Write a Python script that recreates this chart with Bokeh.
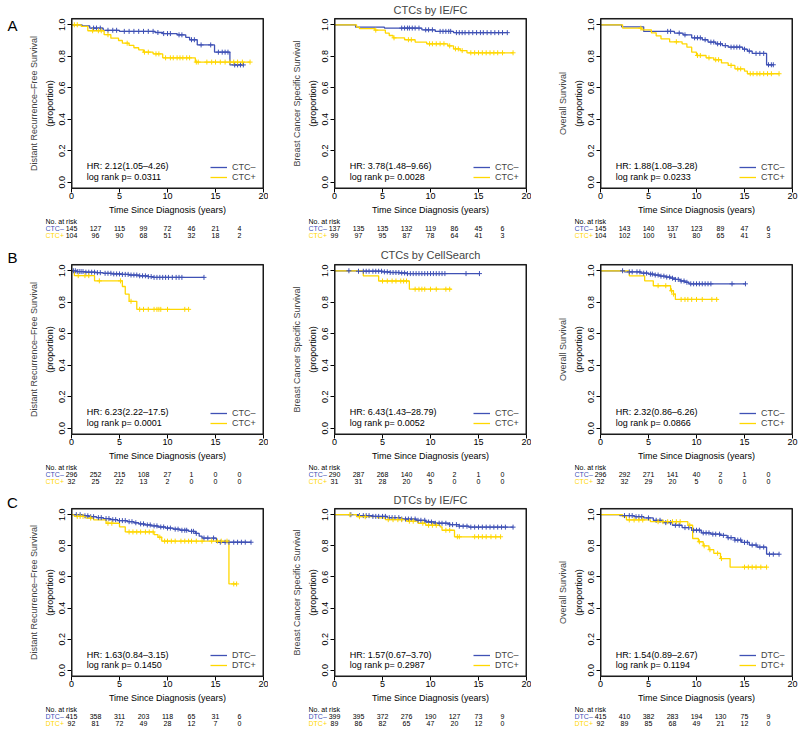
from bokeh.plotting import figure
from bokeh.layouts import row, column
from bokeh.models import (LinearAxis, FixedTicker, PrintfTickFormatter, Legend, LegendItem,
                          Range1d, Title, BoxAnnotation)
from bokeh.core.properties import value
from bokeh.embed import file_html
from bokeh.resources import INLINE

FONT = "Liberation Sans"
BLUE = "#3F51B5"
YELLOW = "#FFD700"

# ---------------- data ----------------
x_limits = [0, 20]
y_limits = [-0.04, 1.04]
x_ticks = [0, 5, 10, 15, 20]
y_ticks = [0.0, 0.2, 0.4, 0.6, 0.8, 1.0]
risk_times = [0, 2.5, 5, 7.5, 10, 12.5, 15, 17.5]

row_titles = ["CTCs by IE/FC", "CTCs by CellSearch", "DTCs by IE/FC"]
row_letters = ["A", "B", "C"]
col_ylabels = ["Distant Recurrence\u2013Free Survival", "Breast Cancer Specific Survival", "Overall Survival"]
row_groups = [["CTC\u2013", "CTC+"], ["CTC\u2013", "CTC+"], ["DTC\u2013", "DTC+"]]

# (time, survival after drop) ; last follow-up time ; censor times
a1_neg_steps = [(1.1, 0.993), (1.9, 0.979), (3.3, 0.965), (5.0, 0.958), (8.7, 0.951), (9.5, 0.944),
                (11.0, 0.936), (11.9, 0.920), (12.3, 0.905), (13.1, 0.872), (14.9, 0.826), (16.5, 0.745)]
a1_neg_end = 17.9
a1_neg_cens = [2.3, 2.6, 3.0, 3.8, 4.3, 4.7, 5.5, 6.0, 6.5, 7.0, 7.5, 8.0, 8.5, 9.0, 9.6, 10.0, 10.3,
               11.2, 11.5, 12.5, 12.8, 13.5, 14.5, 15.3, 15.7, 16.0, 16.3, 17.0, 17.3, 17.6, 17.9]
a1_pos_steps = [(1.0, 0.990), (1.7, 0.962), (3.4, 0.937), (4.1, 0.915), (4.9, 0.900), (5.3, 0.883),
                (6.0, 0.869), (6.5, 0.854), (7.0, 0.841), (7.5, 0.826), (8.5, 0.815), (9.5, 0.790), (12.9, 0.763)]
a1_pos_end = 18.6
a1_pos_cens = [0.3, 0.6, 2.2, 2.8, 3.1, 3.8, 5.8, 7.6, 8.0, 8.8, 9.1, 9.8, 10.3, 10.6, 11.0, 11.3, 11.6,
               12.0, 12.3, 13.0, 13.2, 14.1, 14.6, 15.0, 15.5, 16.0, 16.5, 16.9, 17.3, 17.8, 18.6]

a2_neg_steps = [(2.2, 0.985), (5.2, 0.979), (9.1, 0.968), (10.5, 0.958), (12.4, 0.950)]
a2_neg_end = 18.0
a2_neg_cens = [7.0, 7.3, 7.6, 7.8, 8.1, 8.4, 8.8, 9.5, 9.8, 10.2, 11.0, 11.3, 11.6, 11.9, 12.1, 12.7, 13.0,
               13.3, 13.6, 14.0, 14.4, 14.8, 15.2, 15.5, 15.9, 16.3, 16.7, 17.1, 17.5, 18.0]
a2_pos_steps = [(2.3, 0.985), (2.6, 0.975), (4.2, 0.966), (5.3, 0.947), (5.7, 0.932), (6.1, 0.917),
                (7.3, 0.905), (8.4, 0.890), (9.6, 0.879), (11.8, 0.866), (12.4, 0.847), (13.1, 0.836), (13.8, 0.822)]
a2_pos_end = 18.6
a2_pos_cens = [4.3, 6.2, 7.7, 8.0, 9.9, 10.2, 10.6, 11.0, 11.4, 12.0, 12.6, 12.9, 13.3, 14.2, 14.6, 15.0,
               15.4, 15.8, 16.2, 16.6, 17.0, 17.5, 18.6]

a3_neg_steps = [(2.2, 0.987), (4.5, 0.958), (7.7, 0.947), (8.6, 0.936), (9.5, 0.917), (10.6, 0.905),
                (11.2, 0.890), (12.0, 0.879), (12.7, 0.868), (13.3, 0.858), (14.8, 0.845), (15.3, 0.833),
                (15.8, 0.818), (17.3, 0.746)]
a3_neg_end = 18.0
a3_neg_cens = [7.0, 7.3, 8.2, 8.8, 9.8, 10.1, 10.4, 10.9, 11.5, 11.8, 12.2, 12.5, 13.0, 13.6, 13.9, 14.2,
               14.5, 15.0, 15.5, 16.2, 16.6, 17.0, 17.5, 17.8, 18.0]
a3_pos_steps = [(2.3, 0.979), (4.3, 0.968), (5.3, 0.949), (5.8, 0.930), (6.3, 0.911), (7.2, 0.892),
                (8.5, 0.879), (9.0, 0.858), (9.5, 0.826), (10.0, 0.805), (11.0, 0.790), (11.8, 0.778),
                (12.6, 0.758), (13.3, 0.742), (14.0, 0.720), (15.0, 0.706), (15.3, 0.689)]
a3_pos_end = 18.6
a3_pos_cens = [4.2, 7.9, 10.1, 10.4, 11.3, 12.0, 12.3, 13.6, 14.3, 14.6, 15.6, 15.9, 16.3, 16.6, 17.0, 17.4, 17.8, 18.6]

b1_neg_steps = [(0.5, 0.995), (1.5, 0.991), (2.5, 0.988), (3.3, 0.984), (4.2, 0.980), (5.2, 0.977),
                (6.0, 0.973), (7.0, 0.968), (8.0, 0.963), (8.5, 0.958)]
b1_neg_end = 13.8
b1_neg_cens = [0.2, 0.4, 0.6, 0.8, 1.0, 1.2, 1.5, 1.8, 2.1, 2.4, 2.7, 3.0, 3.5, 3.8, 4.1, 4.4, 4.7, 5.0,
               5.3, 5.6, 5.9, 6.2, 6.5, 6.8, 7.1, 7.4, 7.7, 8.0, 8.3, 8.6, 8.9, 9.2, 9.5, 9.8, 10.1,
               10.5, 10.9, 11.2, 11.5, 13.8]
b1_pos_steps = [(0.3, 0.969), (2.4, 0.936), (5.3, 0.900), (5.6, 0.852), (6.0, 0.806), (6.8, 0.755)]
b1_pos_end = 12.2
b1_pos_cens = [0.7, 1.4, 1.8, 2.9, 5.1, 6.2, 7.1, 7.5, 8.0, 8.6, 8.9, 9.1, 9.3, 10.0, 11.8, 12.2]

b2_neg_steps = [(2.5, 0.997), (5.0, 0.993), (5.8, 0.989), (6.8, 0.986), (7.5, 0.982)]
b2_neg_end = 15.1
b2_neg_cens = [1.5, 2.5, 3.0, 3.3, 3.6, 4.0, 4.3, 4.6, 4.9, 5.2, 5.5, 5.8, 6.1, 6.4, 6.7, 7.0, 7.3, 7.6,
               7.9, 8.2, 8.5, 8.8, 9.1, 9.4, 9.7, 10.0, 10.3, 10.6, 10.9, 11.2, 11.5, 13.7, 15.1]
b2_pos_steps = [(3.0, 0.968), (4.6, 0.935), (7.8, 0.883)]
b2_pos_end = 12.2
b2_pos_cens = [5.0, 5.5, 6.0, 6.4, 6.9, 7.2, 7.5, 8.4, 8.8, 9.1, 9.4, 10.0, 10.6, 11.6, 12.0]

b3_neg_steps = [(2.5, 0.993), (4.2, 0.985), (5.0, 0.979), (5.6, 0.973), (6.2, 0.966), (6.8, 0.960),
                (7.3, 0.953), (7.8, 0.945), (8.3, 0.935), (8.8, 0.927), (9.2, 0.917)]
b3_neg_end = 15.1
b3_neg_cens = [2.3, 3.0, 3.3, 3.8, 4.1, 4.5, 4.8, 5.2, 5.4, 5.7, 6.0, 6.3, 6.6, 6.9, 7.2, 7.5, 7.8, 8.1,
               8.4, 8.7, 9.0, 9.4, 9.7, 10.0, 10.3, 10.6, 10.9, 11.2, 11.5, 13.7, 15.1]
b3_pos_steps = [(3.0, 0.968), (4.6, 0.936), (5.5, 0.905), (7.3, 0.873), (7.6, 0.852), (7.8, 0.818)]
b3_pos_end = 12.2
b3_pos_cens = [6.0, 6.8, 7.4, 7.6, 8.4, 8.8, 9.1, 9.5, 10.0, 10.6, 11.6, 12.1]

c1_neg_steps = [(1.2, 0.993), (1.8, 0.987), (2.6, 0.981), (3.3, 0.975), (4.0, 0.968), (4.8, 0.962),
                (5.8, 0.955), (6.5, 0.948), (7.0, 0.941), (7.6, 0.934), (8.3, 0.928), (9.0, 0.921),
                (9.8, 0.914), (10.6, 0.907), (11.3, 0.900), (12.2, 0.893), (12.9, 0.880), (13.3, 0.862),
                (13.6, 0.850), (15.1, 0.823)]
c1_neg_end = 18.7
c1_neg_cens = [0.5, 0.9, 1.4, 1.7, 2.0, 2.3, 2.8, 3.1, 3.6, 3.9, 4.3, 4.6, 5.0, 5.3, 5.6, 6.0, 6.3, 6.7,
               7.2, 7.5, 7.9, 8.2, 8.6, 8.9, 9.3, 9.6, 10.0, 10.3, 10.8, 11.1, 11.5, 11.8, 12.0, 12.5,
               12.7, 13.0, 13.8, 14.2, 14.8, 15.5, 16.0, 16.4, 16.9, 17.3, 17.7, 18.1, 18.7]
c1_pos_steps = [(0.3, 0.989), (1.5, 0.978), (2.3, 0.967), (3.6, 0.945), (5.0, 0.922), (5.6, 0.889),
                (8.6, 0.872), (9.0, 0.855), (9.4, 0.830), (16.4, 0.555)]
c1_pos_end = 17.2
c1_pos_cens = [0.6, 0.9, 1.2, 2.0, 3.8, 4.2, 6.0, 6.4, 6.8, 7.2, 7.7, 8.1, 8.5, 9.2, 9.7, 10.0, 10.4,
               10.8, 11.4, 11.8, 12.2, 12.5, 13.0, 13.6, 14.6, 15.2, 15.6, 16.2, 16.9, 17.2]

c2_neg_steps = [(2.5, 0.994), (4.0, 0.989), (5.5, 0.981), (7.0, 0.972), (8.5, 0.964), (9.5, 0.953),
                (10.5, 0.945), (12.0, 0.936), (13.0, 0.926), (14.0, 0.920)]
c2_neg_end = 18.6
c2_neg_cens = [1.7, 2.6, 3.0, 3.3, 3.6, 4.0, 4.3, 4.6, 5.0, 5.3, 5.7, 6.0, 6.3, 6.7, 7.0, 7.4, 7.7, 8.0,
               8.4, 8.7, 9.0, 9.4, 9.8, 10.1, 10.5, 10.9, 11.2, 11.6, 12.0, 12.3, 12.7, 13.0, 13.4, 13.8,
               14.2, 14.6, 15.0, 15.4, 15.8, 16.2, 16.6, 17.0, 17.4, 17.8, 18.6]
c2_pos_steps = [(2.3, 0.987), (4.5, 0.979), (5.3, 0.968), (7.5, 0.958), (8.7, 0.945), (9.5, 0.932),
                (11.0, 0.922), (11.2, 0.900), (12.5, 0.858)]
c2_pos_end = 17.3
c2_pos_cens = [1.6, 2.6, 3.2, 5.6, 6.1, 6.6, 7.0, 7.8, 8.2, 9.2, 9.8, 10.2, 10.6, 11.6, 12.0, 12.8, 13.0,
               14.6, 15.0, 15.4, 15.8, 16.3, 16.8, 17.3]

c3_neg_steps = [(2.0, 0.994), (3.5, 0.987), (4.5, 0.979), (5.5, 0.964), (6.5, 0.949), (7.5, 0.932),
                (8.5, 0.917), (9.5, 0.900), (10.5, 0.883), (11.5, 0.875), (12.5, 0.867), (13.2, 0.852),
                (14.0, 0.837), (14.7, 0.822), (15.5, 0.805), (16.3, 0.792), (17.3, 0.746)]
c3_neg_end = 18.6
c3_neg_cens = [2.5, 3.0, 3.3, 3.7, 4.0, 4.3, 5.0, 5.8, 6.2, 6.8, 7.3, 7.8, 8.2, 8.8, 9.2, 9.7, 10.0, 10.3,
               10.7, 11.0, 11.3, 11.7, 12.0, 12.4, 12.8, 13.3, 13.6, 14.0, 14.3, 14.6, 15.0, 15.3, 15.8,
               16.2, 16.6, 17.0, 17.6, 18.0, 18.6]
c3_pos_steps = [(2.3, 0.987), (2.7, 0.966), (5.2, 0.955), (9.1, 0.932), (9.6, 0.847), (10.2, 0.826),
                (10.7, 0.800), (11.3, 0.775), (11.8, 0.752), (12.5, 0.718), (13.5, 0.663)]
c3_pos_end = 17.3
c3_pos_cens = [3.0, 3.5, 4.0, 4.4, 6.0, 6.5, 7.0, 7.5, 7.9, 8.3, 9.3, 10.3, 10.8, 11.4, 12.2, 12.6, 15.0,
               15.4, 15.8, 16.2, 16.7, 17.3]

# number at risk
a1_neg_risk = [145, 127, 115, 99, 72, 46, 21, 4]
a1_pos_risk = [104, 96, 90, 68, 51, 32, 18, 2]
a2_neg_risk = [137, 135, 135, 132, 119, 86, 45, 6]
a2_pos_risk = [99, 97, 95, 87, 78, 64, 41, 3]
a3_neg_risk = [145, 143, 140, 137, 123, 89, 47, 6]
a3_pos_risk = [104, 102, 100, 91, 80, 65, 41, 3]
b1_neg_risk = [296, 252, 215, 108, 27, 1, 0, 0]
b1_pos_risk = [32, 25, 22, 13, 2, 0, 0, 0]
b2_neg_risk = [290, 287, 268, 140, 40, 2, 1, 0]
b2_pos_risk = [31, 31, 28, 20, 5, 0, 0, 0]
b3_neg_risk = [296, 292, 271, 141, 40, 2, 1, 0]
b3_pos_risk = [32, 32, 29, 20, 5, 0, 0, 0]
c1_neg_risk = [415, 358, 311, 203, 118, 65, 31, 6]
c1_pos_risk = [92, 81, 72, 49, 28, 12, 7, 0]
c2_neg_risk = [399, 395, 372, 276, 190, 127, 73, 9]
c2_pos_risk = [89, 86, 82, 65, 47, 20, 12, 0]
c3_neg_risk = [415, 410, 382, 283, 194, 130, 75, 9]
c3_pos_risk = [92, 89, 85, 68, 49, 21, 12, 0]

hr_texts = [["HR: 2.12(1.05\u20134.26)", "HR: 3.78(1.48\u20139.66)", "HR: 1.88(1.08\u20133.28)"],
            ["HR: 6.23(2.22\u201317.5)", "HR: 6.43(1.43\u201328.79)", "HR: 2.32(0.86\u20136.26)"],
            ["HR: 1.63(0.84\u20133.15)", "HR: 1.57(0.67\u20133.70)", "HR: 1.54(0.89\u20132.67)"]]
p_texts = [["log rank p= 0.0311", "log rank p= 0.0028", "log rank p= 0.0233"],
           ["log rank p= 0.0001", "log rank p= 0.0052", "log rank p= 0.0866"],
           ["log rank p= 0.1450", "log rank p= 0.2987", "log rank p= 0.1194"]]

curves = [
    [(a1_neg_steps, a1_neg_end, a1_neg_cens, a1_neg_risk, a1_pos_steps, a1_pos_end, a1_pos_cens, a1_pos_risk),
     (a2_neg_steps, a2_neg_end, a2_neg_cens, a2_neg_risk, a2_pos_steps, a2_pos_end, a2_pos_cens, a2_pos_risk),
     (a3_neg_steps, a3_neg_end, a3_neg_cens, a3_neg_risk, a3_pos_steps, a3_pos_end, a3_pos_cens, a3_pos_risk)],
    [(b1_neg_steps, b1_neg_end, b1_neg_cens, b1_neg_risk, b1_pos_steps, b1_pos_end, b1_pos_cens, b1_pos_risk),
     (b2_neg_steps, b2_neg_end, b2_neg_cens, b2_neg_risk, b2_pos_steps, b2_pos_end, b2_pos_cens, b2_pos_risk),
     (b3_neg_steps, b3_neg_end, b3_neg_cens, b3_neg_risk, b3_pos_steps, b3_pos_end, b3_pos_cens, b3_pos_risk)],
    [(c1_neg_steps, c1_neg_end, c1_neg_cens, c1_neg_risk, c1_pos_steps, c1_pos_end, c1_pos_cens, c1_pos_risk),
     (c2_neg_steps, c2_neg_end, c2_neg_cens, c2_neg_risk, c2_pos_steps, c2_pos_end, c2_pos_cens, c2_pos_risk),
     (c3_neg_steps, c3_neg_end, c3_neg_cens, c3_neg_risk, c3_pos_steps, c3_pos_end, c3_pos_cens, c3_pos_risk)],
]

# ---------------- layout (pixels) ----------------
STRIP_W = 20
BOX_W = 192                 # plot box size in px
BOX_H = 172
INSET = 2                   # frame extends this many px beyond the drawn box
BOX_L = [51, 66, 69]        # box offset from the figure's left edge
BOX_R = [5, 5, 6]
ROW_TOP = [17, 18, 15]      # box offset from the figure's top edge
PLOT_BOTTOM = 28            # space under the box
TITLE_STANDOFF = [2, 3, 2]
TABLE_FH = 21
TABLE_H = [28, 27, 24]
RISK_PAD = 26               # px that row names stick out left of the plot box
LETTER_Y = [25, 257, 502]   # page positions of the panel letters (layout only)
TOTAL_H = sum(ROW_TOP) + 3 * (BOX_H + PLOT_BOTTOM) + sum(TABLE_H)

PX_X = (x_limits[1] - x_limits[0]) / BOX_W      # one pixel in data units
PX_Y = (y_limits[1] - y_limits[0]) / BOX_H
PAD_X = INSET * PX_X
PAD_Y = INSET * PX_Y


def step_xy(steps, end):
    xs = [0.0] + [t for t, s in steps] + [end]
    ys = [1.0] + [s for t, s in steps] + [steps[-1][1]]
    return xs, ys


def surv_at(steps, t):
    v = 1.0
    for tt, s in steps:
        if tt <= t:
            v = s
    return v


def style_axis(ax):
    ax.axis_line_color = None
    ax.major_tick_out = INSET
    ax.major_tick_in = INSET
    ax.major_tick_line_color = "black"
    ax.minor_tick_line_color = None
    ax.major_label_text_font = FONT
    ax.major_label_text_font_size = "9px"
    ax.major_label_text_color = "black"
    ax.axis_label_text_font = FONT
    ax.axis_label_text_font_size = "9px"
    ax.axis_label_text_font_style = "normal"
    ax.axis_label_text_color = "black"


def make_panel(r, c):
    (ns, ne, nc, nr, ps, pe, pc, pr) = curves[r][c]
    p = figure(width=BOX_L[c] + BOX_W + BOX_R[c], height=ROW_TOP[r] + BOX_H + PLOT_BOTTOM,
               output_backend="svg", toolbar_location=None,
               x_range=Range1d(x_limits[0] - PAD_X, x_limits[1] + PAD_X),
               y_range=Range1d(y_limits[0] - PAD_Y, y_limits[1] + PAD_Y),
               min_border_left=BOX_L[c] - INSET, min_border_right=BOX_R[c] - INSET,
               min_border_top=ROW_TOP[r] - INSET, min_border_bottom=PLOT_BOTTOM - INSET,
               background_fill_color=None, border_fill_color=None, outline_line_color=None)
    p.grid.visible = False

    xa = p.xaxis[0]
    xa.ticker = FixedTicker(ticks=x_ticks)
    xa.axis_label = "Time Since Diagnosis (years)"
    ya = p.yaxis[0]
    ya.ticker = FixedTicker(ticks=y_ticks)
    ya.formatter = PrintfTickFormatter(format="%.1f")
    ya.major_label_orientation = "parallel"
    ya.axis_label = "(proportion)"
    style_axis(xa)
    style_axis(ya)
    xa.major_label_standoff = 0
    xa.axis_label_standoff = 3
    ya.major_label_standoff = 2
    ya.axis_label_standoff = 2

    ya2 = LinearAxis(ticker=FixedTicker(ticks=[]), axis_line_color=None, major_tick_out=0,
                     major_tick_in=0, minor_tick_line_color=None, major_label_text_font_size="0px",
                     axis_label=col_ylabels[c], axis_label_text_font=FONT,
                     axis_label_text_font_size="9px", axis_label_text_font_style="normal",
                     axis_label_standoff=3, major_label_standoff=0)
    p.add_layout(ya2, "left")
    if c == 1:
        p.add_layout(Title(text=row_titles[r], align="center", text_font=FONT, text_font_size="11px",
                           text_font_style="normal", standoff=TITLE_STANDOFF[r]), "above")

    nx, ny = step_xy(ns, ne)
    px_, py_ = step_xy(ps, pe)
    rn = p.step(nx, ny, mode="after", line_color=BLUE, line_width=1.3)
    rp = p.step(px_, py_, mode="after", line_color=YELLOW, line_width=1.3)
    p.scatter(nc, [surv_at(ns, t) for t in nc], marker="cross", size=5, line_color=BLUE, line_width=1)
    p.scatter(pc, [surv_at(ps, t) for t in pc], marker="cross", size=5, line_color=YELLOW, line_width=1)

    p.text(x=[1.6, 1.6], y=[0.10, 0.033], text=[hr_texts[r][c], p_texts[r][c]],
           text_font=value(FONT), text_font_size=value("9px"), text_baseline="middle",
           text_align="left", text_color="black")

    # the plot box (R's box()) at the axis limits
    x0, x1 = x_limits
    y0, y1 = y_limits
    p.quad(left=[x0, x1 - PX_X, x0, x0], right=[x0 + PX_X, x1, x1, x1],
           bottom=[y0, y0, y0, y1 - PX_Y], top=[y1, y1, y0 + PX_Y, y1],
           fill_color="#1a1a1a", fill_alpha=1.0, line_color=None)
    p.add_layout(BoxAnnotation(left=x0, right=x1, bottom=y0, top=y1, fill_alpha=0, fill_color=None,
                               line_color="#1a1a1a", line_width=1, line_alpha=1.0, level="overlay"))

    g = row_groups[r]
    leg = Legend(items=[LegendItem(label=g[0], renderers=[rn]), LegendItem(label=g[1], renderers=[rp])],
                 location=(139 + INSET, 6 + INSET), glyph_width=17, glyph_height=10, label_height=10,
                 label_width=20, spacing=0, padding=0, margin=0, label_standoff=5,
                 border_line_color=None, background_fill_alpha=0,
                 label_text_font=FONT, label_text_font_size="9px")
    p.add_layout(leg)
    return p


def make_table(r, c):
    (ns, ne, nc, nr, ps, pe, pc, pr) = curves[r][c]
    pad = RISK_PAD * (x_limits[1] - x_limits[0]) / BOX_W
    t = figure(width=BOX_L[c] + BOX_W + BOX_R[c], height=TABLE_H[r], output_backend="svg",
               toolbar_location=None, x_range=Range1d(x_limits[0] - pad, x_limits[1]),
               y_range=Range1d(-0.5, 2.5),
               min_border_left=BOX_L[c] - RISK_PAD, min_border_right=BOX_R[c],
               min_border_top=0, min_border_bottom=TABLE_H[r] - TABLE_FH,
               x_axis_type=None, y_axis_type=None, outline_line_color=None,
               background_fill_color=None, border_fill_color=None)
    t.grid.visible = False
    g = row_groups[r]
    t.text(x=[x_limits[0] - pad], y=[2], text=["No. at risk"], text_font=value(FONT),
           text_font_size=value("7px"), text_baseline="middle", text_align="left", text_color="black")
    t.text(x=[x_limits[0] - pad] * 2, y=[1, 0], text=g, text_font=value(FONT), text_font_size=value("7px"),
           text_baseline="middle", text_align="left", text_color=[BLUE, YELLOW])
    t.text(x=risk_times, y=[1] * len(risk_times), text=[str(v) for v in nr], text_font=value(FONT),
           text_font_size=value("7px"), text_baseline="middle", text_align="center", text_color="black")
    t.text(x=risk_times, y=[0] * len(risk_times), text=[str(v) for v in pr], text_font=value(FONT),
           text_font_size=value("7px"), text_baseline="middle", text_align="center", text_color="black")
    return t


strip = figure(width=STRIP_W, height=TOTAL_H, output_backend="svg", toolbar_location=None,
               x_range=Range1d(0, STRIP_W), y_range=Range1d(TOTAL_H, 0),
               min_border_left=0, min_border_right=0, min_border_top=0, min_border_bottom=0,
               x_axis_type=None, y_axis_type=None, outline_line_color=None,
               background_fill_color=None, border_fill_color=None)
strip.grid.visible = False
strip.text(x=[12, 12, 12], y=LETTER_Y, text=row_letters, text_font=value(FONT),
           text_font_size=value("15px"), text_baseline="middle", text_align="center", text_color="black")

blocks = []
for r in range(3):
    blocks.append(row(*[make_panel(r, c) for c in range(3)]))
    blocks.append(row(*[make_table(r, c) for c in range(3)]))
layout = row(strip, column(*blocks))

open("out.html", "w").write(file_html(layout, INLINE))
